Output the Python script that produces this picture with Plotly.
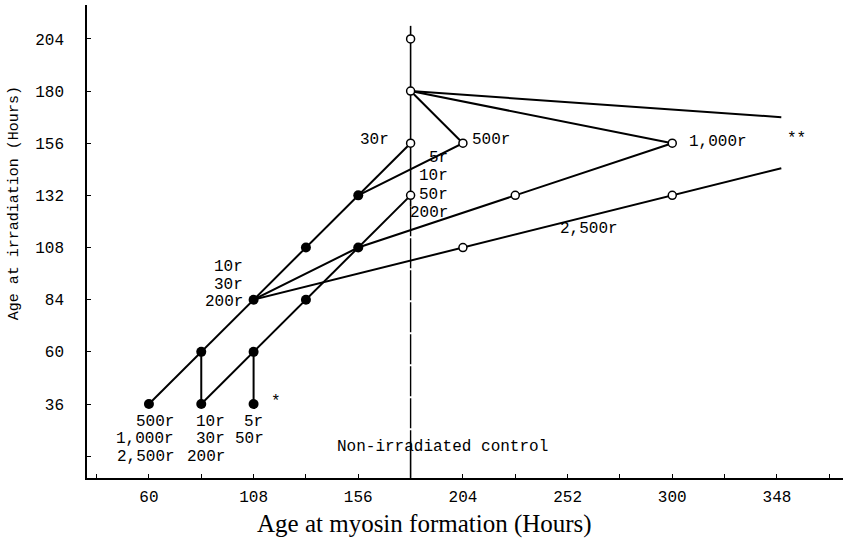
import plotly.graph_objects as go

# Irradiation age (h) vs. age at which myosin is first formed (h)

# Filled points: irradiated embryos, early stages
solid_x = [60, 84, 108, 84, 108, 108, 132, 132, 156, 156]
solid_y = [36, 36, 36, 60, 60, 84, 84, 108, 108, 132]

# Open points: control line and delayed myosin formation
open_x = [180, 180, 180, 180, 204, 228, 300, 204, 300]
open_y = [204, 180, 156, 132, 156, 132, 156, 108, 132]

# Connecting paths between points of the same dose groups
path_upper_x = [60, 84, 108, 132, 156, 180]
path_upper_y = [36, 60, 84, 108, 132, 156]
path_lower_x = [84, 108, 132, 156, 180]
path_lower_y = [36, 60, 84, 108, 132]
drop_84_x = [84, 84]
drop_84_y = [36, 60]
drop_108_x = [108, 108]
drop_108_y = [36, 60]
path_500_x = [156, 204, 180]
path_500_y = [132, 156, 180]
path_1000_x = [108, 156, 228, 300, 180]
path_1000_y = [84, 108, 132, 156, 180]
path_2500_x = [108, 204, 300, 350]
path_2500_y = [84, 108, 132, 144.5]
path_top_x = [180, 350]
path_top_y = [180, 168]

# Non-irradiated control (vertical line at 180 h)
control_x = 180
control_solid_top = [210, 127]
control_dashed = [127, 19]
control_solid_bottom = [19, 2]

x_ticks = list(range(36, 373, 24))
x_labels = [60, 108, 156, 204, 252, 300, 348]
y_ticks = list(range(12, 205, 24))
y_labels = [36, 60, 84, 108, 132, 156, 180, 204]

MONO = "Liberation Mono"
SERIF = "Liberation Serif"
LINE = dict(color="black", width=2)

fig = go.Figure()

paths = [
    (path_upper_x, path_upper_y),
    (path_lower_x, path_lower_y),
    (drop_84_x, drop_84_y),
    (drop_108_x, drop_108_y),
    (path_500_x, path_500_y),
    (path_1000_x, path_1000_y),
    (path_2500_x, path_2500_y),
    (path_top_x, path_top_y),
]
for px, py in paths:
    fig.add_trace(go.Scatter(x=px, y=py, mode="lines", line=LINE,
                             hoverinfo="skip", showlegend=False))

fig.add_trace(go.Scatter(x=[control_x, control_x], y=control_solid_top, mode="lines",
                         line=dict(color="black", width=1.6), showlegend=False))
fig.add_trace(go.Scatter(x=[control_x, control_x], y=control_dashed, mode="lines",
                         line=dict(color="black", width=1.4, dash="30px,2px"),
                         showlegend=False))
fig.add_trace(go.Scatter(x=[control_x, control_x], y=control_solid_bottom, mode="lines",
                         line=dict(color="black", width=1.6), showlegend=False))

fig.add_trace(go.Scatter(x=solid_x, y=solid_y, mode="markers",
                         marker=dict(size=10, color="black"), showlegend=False))
fig.add_trace(go.Scatter(x=open_x, y=open_y, mode="markers",
                         marker=dict(size=8, color="white",
                                     line=dict(color="black", width=1.5)),
                         showlegend=False))

annotations = []


def label(text, x, y, xanchor, xshift=0, yshift=0, size=16):
    annotations.append(dict(text=text, x=x, y=y, xref="x", yref="y",
                            xanchor=xanchor, yanchor="middle",
                            xshift=xshift, yshift=yshift, showarrow=False,
                            font=dict(family=MONO, size=size, color="black")))


# Dose labels beside the points
label("30r", 180, 156, "right", -20, 3)
label("500r", 204, 156, "left", 7, 3)
label("5r", 180, 132, "right", 39, 37)
label("10r", 180, 132, "right", 39, 19)
label("50r", 180, 132, "right", 39, 0)
label("200r", 180, 132, "right", 39, -18)
label("1,000r", 300, 156, "left", 15, 1)
label("10r", 108, 84, "right", -9, 33)
label("30r", 108, 84, "right", -9, 15)
label("200r", 108, 84, "right", -9, -2)
label("500r", 60, 36, "right", 27, -18)
label("1,000r", 60, 36, "right", 27, -35)
label("2,500r", 60, 36, "right", 28, -53)
label("10r", 84, 36, "right", 26, -18)
label("30r", 84, 36, "right", 26, -35)
label("200r", 84, 36, "right", 26, -53)
label("5r", 108, 36, "right", 11, -18)
label("50r", 108, 36, "right", 12, -35)
label("*", 108, 36, "center", 22, 2)
label("2,500r", 262, 116.5, "center")
label("**", 357, 158, "center")
label("Non-irradiated control", 180, 16, "left", -76)

# Axis titles
annotations.append(dict(text="Age at myosin formation (Hours)", x=0.447, y=-0.097,
                        xref="paper", yref="paper", xanchor="center", yanchor="middle",
                        showarrow=False,
                        font=dict(family=SERIF, size=25, color="black")))
annotations.append(dict(text="Age at irradiation (Hours)", x=-0.0966, y=0.581,
                        xref="paper", yref="paper", xanchor="center", yanchor="middle",
                        textangle=-90, showarrow=False,
                        font=dict(family=MONO, size=15, color="black")))

fig.update_layout(
    width=843, height=539,
    margin=dict(l=87, r=0, t=5, b=61),
    paper_bgcolor="white", plot_bgcolor="white",
    annotations=annotations,
    showlegend=False,
)
fig.update_xaxes(
    range=[31.6, 378.3], tickvals=x_ticks,
    ticktext=[str(v) if v in x_labels else "" for v in x_ticks],
    showline=True, linecolor="black", linewidth=1.5, showgrid=False, zeroline=False,
    ticks="inside", ticklen=4, tickcolor="black", ticklabelstandoff=3,
    tickfont=dict(family=MONO, size=16, color="black"),
)
fig.update_yaxes(
    range=[1.95, 219.6], tickvals=y_ticks,
    ticktext=[str(v) if v in y_labels else "" for v in y_ticks],
    showline=True, linecolor="black", linewidth=1.5, showgrid=False, zeroline=False,
    ticks="inside", ticklen=4, tickcolor="black", ticklabelstandoff=18,
    tickfont=dict(family=MONO, size=16, color="black"),
)

fig.write_html("out.html")
